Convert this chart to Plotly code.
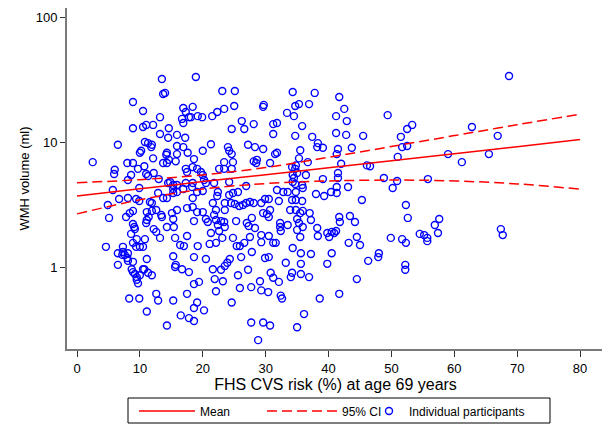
import plotly.graph_objects as go

# Individual participants: FHS CVS risk (%) and WMH volume (ml)
risk_pct = [
    13.5, 13.7, 14.0, 8.9, 10.5, 13.2, 16.9, 17.3, 16.7, 16.9, 17.8, 8.9, 10.5, 11.0, 12.1, 14.6,
    18.9, 23.1, 25.1, 18.4, 18.1, 19.2, 19.9, 21.5, 22.3, 23.4, 25.0, 26.2, 24.6, 26.6, 28.1, 29.6,
    29.7, 31.2, 31.8, 33.4, 34.5, 34.3, 34.7, 35.3, 35.8,
    37.8, 36.9, 41.7, 42.5, 41.2, 42.9, 49.4, 52.5, 53.3,
    68.7, 62.8,
    13.2, 14.5, 15.9, 17.2, 6.5, 10.8, 11.3, 11.9, 11.8, 15.9, 16.9, 10.2, 10.0, 14.3, 14.2, 12.1,
    15.9, 17.6, 2.5, 8.0, 8.9, 13.7, 14.3, 14.6, 15.7, 10.7, 9.7, 6.0, 5.9, 8.6, 11.0, 11.3, 12.2,
    8.1, 13.0, 17.3, 17.5, 14.8, 15.3, 14.5, 15.9, 17.3, 15.3, 15.3, 15.9, 16.9, 5.7, 9.9, 12.9,
    6.7, 8.1, 9.4, 9.9, 11.6, 11.9, 13.7, 14.3, 4.9, 5.1, 7.8, 8.4, 8.9, 11.1, 11.9, 12.6, 13.4,
    13.5, 15.1, 15.9, 17.5, 11.4, 11.1, 11.0, 8.9, 9.1, 9.2, 12.2, 12.6, 14.3, 15.3, 15.4, 8.6,
    9.5, 10.8, 13.2, 15.6, 17.5,
    31.2, 34.7, 21.3, 20.0, 24.0, 24.2, 24.6, 27.2, 28.3, 29.6, 31.5, 31.8, 35.5, 35.3, 18.6, 23.4,
    24.8, 28.1, 28.6, 28.5, 30.7, 34.8, 18.4, 19.1, 19.7, 22.6, 23.4, 24.6, 34.2, 34.7, 20.0, 20.2,
    20.5, 18.4, 18.3, 19.1, 20.0, 21.8, 24.2, 26.9, 34.3, 35.0, 34.5, 34.3, 34.7, 35.8, 35.9, 31.8,
    32.8, 33.5, 34.8, 22.4, 22.3, 24.8, 25.6, 24.2, 18.4, 21.6, 23.5, 24.5, 25.1, 25.8, 26.4, 26.9,
    27.5, 28.1, 29.3, 29.9, 30.5, 32.1, 34.2, 34.8, 35.8, 18.4, 19.1, 20.0, 22.1, 21.8, 23.5, 29.6,
    30.2, 30.7, 30.5, 33.9, 34.8, 35.5, 35.9, 18.6, 20.5, 20.8, 22.1, 22.9, 23.4, 22.4, 22.6, 23.5,
    25.3, 27.8, 27.0, 27.3, 28.3, 32.3, 32.3, 33.5, 32.4, 35.0, 35.3, 35.9, 35.0, 21.3, 23.1, 24.8,
    27.5, 29.3, 30.5, 35.5,
    37.4, 38.3, 38.2, 39.1, 41.2, 42.8, 45.5, 41.5, 41.3, 43.7, 51.5, 51.7, 52.5, 51.0, 36.7, 42.0,
    46.1, 46.6, 36.4, 41.5, 41.5, 39.1, 48.8, 50.9, 41.3, 43.1, 50.2, 41.3, 40.4, 39.3, 38.0, 45.3,
    52.3, 37.0, 37.2, 41.7, 41.8, 43.4, 44.2, 52.6, 38.2, 38.3, 39.8, 40.5, 40.9, 41.2, 40.1, 44.5,
    49.9, 51.7,
    66.9, 59.0, 65.5, 61.2, 55.8, 57.6, 56.9, 57.4, 54.5, 55.2, 55.7, 67.4, 67.7,
    4.6, 7.3, 7.3, 6.5, 7.2, 7.6, 8.1, 8.0, 8.1, 8.9, 8.9, 9.4, 10.0, 10.5, 11.1, 6.5, 15.3, 15.7,
    15.6, 16.7, 16.4, 17.0, 17.8, 8.7, 8.9, 9.2, 10.0, 10.5, 10.7, 11.3, 11.9, 9.5, 9.5, 9.7, 8.3,
    9.9, 12.6, 12.9, 15.3, 17.5, 11.1, 16.5, 17.8, 14.3,
    19.2, 21.1, 22.1, 25.4, 25.9, 26.6, 29.3, 31.2, 31.6, 34.3, 35.6, 18.6, 20.5, 26.1, 27.8, 29.9,
    30.5, 33.2, 35.6, 24.3, 23.9, 23.5, 22.9, 21.6, 25.6, 27.2, 30.8, 31.2, 34.2, 34.0, 35.6, 32.1,
    29.1, 21.9, 23.2, 19.4, 18.6, 22.1, 25.9, 27.7, 29.3, 30.4, 32.4, 32.6, 19.1, 24.6, 18.6, 20.2,
    18.6, 27.7, 29.6, 30.7, 35.0, 28.8, 36.1,
    43.2, 45.0, 52.3, 37.2, 40.5, 39.8, 46.3, 48.0, 47.9, 52.2, 52.2, 36.9, 44.5, 41.7, 38.6,
    55.7,
]
wmh_ml = [
    31.9, 24.2, 24.7, 20.9, 17.7, 15.8, 18.7, 17.4, 15.3, 14.2, 15.8, 12.9, 13.2, 13.7, 13.7, 12.9,
    33.1, 25.6, 25.6, 19.1, 15.8, 16.1, 15.8, 16.1, 17.4, 18.4, 19.4, 14.7, 12.7, 12.7, 13.9, 19.1,
    19.8, 13.9, 14.2, 17.1, 16.1, 25.1, 19.4, 20.1, 13.4,
    24.7, 20.1, 22.9, 18.4, 16.1, 14.7, 16.4, 12.7, 13.7,
    33.7, 13.2,
    11.6, 10.8, 11.4, 10.8, 9.5, 10.0, 9.8, 9.5, 9.1, 9.3, 9.1, 8.5, 8.2, 8.2, 7.9, 7.4,
    8.0, 8.2, 6.9, 6.8, 6.8, 6.8, 6.8, 7.2, 7.0, 6.4, 6.1, 6.0, 5.55, 5.45, 5.55, 5.35, 5.65,
    4.97, 5.05, 6.1, 5.75, 4.79, 4.53, 4.70, 4.53, 4.70, 4.21, 3.91, 3.98, 4.21, 4.13, 4.29, 3.91,
    3.50, 3.56, 3.50, 3.37, 3.31, 3.25, 3.56, 3.56, 3.13, 2.47, 2.51, 2.70, 2.81, 2.75, 2.81, 2.86, 2.61,
    2.51, 2.70, 2.86, 2.96, 2.51, 2.38, 2.25, 2.21, 2.09, 2.01, 2.01, 1.91, 2.09, 2.42, 2.09, 1.84,
    1.67, 1.67, 1.71, 1.71, 1.77,
    11.6, 11.2, 9.6, 8.5, 9.1, 8.5, 8.0, 9.5, 9.1, 8.8, 8.0, 8.2, 8.6, 7.4, 7.3, 6.9,
    6.9, 7.0, 7.2, 6.8, 6.8, 6.5, 6.3, 6.1, 5.75, 6.1, 6.1, 6.1, 6.3, 6.1, 5.45, 4.97,
    4.70, 4.70, 4.37, 3.98, 4.06, 4.70, 4.79, 4.45, 5.45, 5.65, 5.15, 4.79, 4.61, 4.53, 4.29, 4.13,
    3.98, 3.98, 3.98, 3.98, 3.70, 3.91, 3.98, 3.77, 3.56, 3.25, 3.25, 3.25, 3.19, 3.08, 3.13, 3.25,
    3.31, 3.25, 3.25, 3.50, 3.50, 3.37, 3.44, 3.44, 3.37, 3.02, 2.75, 2.75, 2.86, 2.61, 2.86, 2.70,
    2.65, 2.86, 2.51, 2.86, 2.86, 2.70, 2.81, 2.33, 2.42, 2.29, 2.38, 2.33, 2.29, 2.17, 1.94, 2.09,
    2.33, 2.47, 2.25, 2.13, 2.05, 2.25, 2.09, 2.17, 1.94, 2.42, 2.25, 2.09, 1.98, 1.87, 1.71, 1.71,
    1.74, 1.80, 1.77, 1.74,
    11.0, 9.8, 9.1, 9.0, 11.8, 11.4, 11.2, 8.8, 8.0, 9.0, 11.0, 9.1, 9.3, 7.6, 6.9, 6.7,
    6.5, 6.4, 5.45, 5.65, 5.15, 5.05, 5.15, 4.88, 4.37, 4.37, 4.29, 3.91, 3.98, 3.70, 3.84, 3.44,
    3.13, 2.70, 2.38, 2.51, 2.29, 2.56, 2.29, 2.47, 2.05, 1.77, 1.87, 1.91, 1.87, 1.94, 1.74, 1.74,
    1.71, 1.67,
    11.2, 8.0, 8.0, 6.9, 5.05, 2.42, 2.17, 1.87, 1.84, 1.80, 1.71, 2.01, 1.80,
    1.45, 1.45, 1.32, 1.29, 1.25, 1.25, 1.29, 1.18, 1.12, 1.10, 1.56, 1.45, 1.45, 1.45, 1.16, 1.04, 1.22, 1.04,
    1.00, 0.96, 1.50, 1.47, 0.91, 0.96, 0.91, 0.88, 0.86, 0.96, 0.96, 0.90, 0.86, 0.83, 0.79, 0.74, 0.56,
    0.56, 0.61, 0.54, 0.54, 0.61, 0.44, 0.41, 0.39, 0.34,
    1.47, 1.53, 1.56, 1.47, 1.47, 1.56, 1.58, 1.56, 1.56, 1.42, 1.29, 1.20, 1.16, 1.20, 1.32, 1.18,
    1.20, 1.08, 1.06, 1.16, 1.08, 1.02, 0.95, 0.96, 0.86, 0.95, 0.90, 0.82, 0.90, 0.83, 0.88, 0.76,
    0.77, 0.80, 0.77, 0.76, 0.73, 0.64, 0.68, 0.69, 0.65, 0.63, 0.59, 0.56, 0.52, 0.52, 0.47, 0.45,
    0.37, 0.36, 0.36, 0.34, 0.33, 0.26, 0.42,
    1.56, 1.50, 1.56, 1.27, 1.29, 1.06, 1.12, 1.29, 1.20, 1.04, 0.95, 0.83, 0.80, 0.61, 0.56,
    1.61,
]

# Fitted mean and 95% CI, read at regular risk values
fit_x = [0, 10, 20, 30, 40, 50, 60, 70, 80]
fit_mean = [3.70, 4.22, 4.82, 5.48, 6.22, 7.08, 8.06, 9.18, 10.45]
fit_upper = [4.72, 5.00, 5.45, 6.25, 7.55, 9.20, 11.25, 13.75, 16.7]
fit_lower = [2.66, 3.45, 4.20, 4.65, 4.88, 4.96, 4.88, 4.62, 4.20]

x_ticks = [0, 10, 20, 30, 40, 50, 60, 70, 80]
y_ticks = [1, 10, 100]
y_tick_text = ["1", "10", "100"]

FONT = "Liberation Sans, Arial, sans-serif"
RED = "#ff0000"
BLUE = "#0000ff"
AXIS = "#7a7a7a"
TICK = "#333333"

# the page body adds an 8 px offset; layout below compensates for it
OFF = 8
PLOT_L, PLOT_R, PLOT_T, PLOT_B = 67 - OFF, 604 - OFF, 8 - OFF, 349 - OFF
W, H = 610, 429
PW, PH = PLOT_R - PLOT_L, PLOT_B - PLOT_T


def px_x(p):
    return (p - OFF - PLOT_L) / PW


def px_y(p):
    return (PLOT_B - (p - OFF)) / PH


fig = go.Figure()
fig.add_trace(go.Scatter(
    x=risk_pct, y=wmh_ml, mode="markers", name="Individual participants",
    marker=dict(symbol="circle-open", size=7, color=BLUE, line=dict(width=1.4, color=BLUE)),
    legend="legend3",
))
fig.add_trace(go.Scatter(
    x=fit_x, y=fit_mean, mode="lines", name="Mean",
    line=dict(color=RED, width=1.5, shape="spline"), legend="legend",
))
fig.add_trace(go.Scatter(
    x=fit_x, y=fit_upper, mode="lines", name="95% CI",
    line=dict(color=RED, width=1.5, dash="10px,5px", shape="spline"), legend="legend2",
))
fig.add_trace(go.Scatter(
    x=fit_x, y=fit_lower, mode="lines", name="95% CI", showlegend=False,
    line=dict(color=RED, width=1.5, dash="10px,5px", shape="spline"), legend="legend2",
))

legend_common = dict(
    orientation="h", xref="container", yref="container", yanchor="middle",
    xanchor="left", y=1 - (411 - OFF) / H, borderwidth=0, bgcolor="rgba(0,0,0,0)",
    font=dict(family=FONT, size=12, color="black"),
)

fig.update_layout(
    template="none",
    width=W, height=H,
    margin=dict(l=PLOT_L, r=W - PLOT_R, t=PLOT_T, b=H - PLOT_B, autoexpand=False),
    paper_bgcolor="white", plot_bgcolor="white",
    font=dict(family=FONT, size=13, color="black"),
    showlegend=True,
    legend=dict(legend_common, x=(134 - OFF) / W, itemwidth=56),
    legend2=dict(legend_common, x=(262 - OFF) / W, itemwidth=70),
    legend3=dict(legend_common, x=(369 - OFF) / W, itemwidth=30),
    shapes=[dict(
        type="rect", xref="paper", yref="paper",
        x0=px_x(128), x1=px_x(550), y0=px_y(423), y1=px_y(398),
        line=dict(color="black", width=1), fillcolor="rgba(0,0,0,0)", layer="above",
    )],
    xaxis=dict(
        range=[-1.59, 83.8], tickvals=x_ticks, showgrid=False, zeroline=False,
        automargin=False, showline=True, linecolor=AXIS, linewidth=2,
        ticks="outside", ticklen=6, tickwidth=1, tickcolor=TICK, tickfont=dict(size=13),
        title=dict(text="FHS CVS risk (%) at age 69 years", font=dict(size=16), standoff=0),
    ),
    yaxis=dict(
        type="log", range=[-0.656, 2.072], tickvals=y_ticks, ticktext=y_tick_text,
        showgrid=False, zeroline=False, automargin=False, showline=True,
        linecolor=AXIS, linewidth=2, ticks="outside", ticklen=5, tickwidth=1,
        tickcolor=TICK, tickfont=dict(size=13),
        title=dict(text="WMH volume (ml)", font=dict(size=13), standoff=3),
    ),
)

fig.write_html("out.html")
